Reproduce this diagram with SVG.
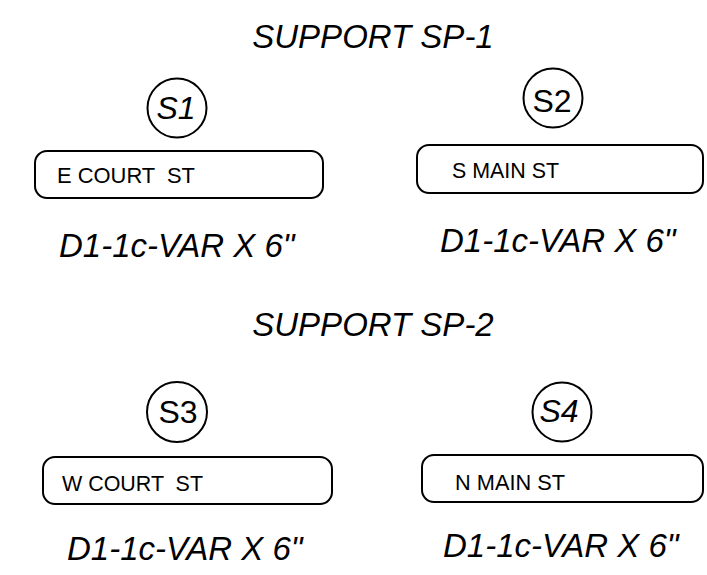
<svg xmlns="http://www.w3.org/2000/svg" width="707" height="575" viewBox="0 0 707 575">
<style>
.t{font-family:"Liberation Sans",Arial,sans-serif;fill:#000}
.big{font-size:33px;font-style:italic}
.sn{font-size:32px}
.it{font-style:italic}
.st{font-size:22.5px;white-space:pre}
.c{fill:#fff;stroke:#000;stroke-width:2}
.b{fill:#fff;stroke:#000;stroke-width:2}
</style>
<rect width="707" height="575" fill="#fff"/>
<text class="t big" x="373" y="48" text-anchor="middle">SUPPORT SP-1</text>
<text class="t big" x="373" y="336" text-anchor="middle">SUPPORT SP-2</text>
<g id="connectors"></g>
<g id="S1">
<circle class="c" cx="177" cy="108" r="29.5"/>
<text class="t sn it" x="176" y="119" text-anchor="middle">S1</text>
</g>
<g id="box1">
<rect class="b" x="35" y="151" width="288" height="47" rx="12"/>
<text class="t st" x="57" y="183" xml:space="preserve" textLength="138" lengthAdjust="spacingAndGlyphs">E COURT  ST</text>
</g>
<g id="label1"><text class="t big" x="59" y="257">D1-1c-VAR X 6"</text></g>
<g id="S2">
<circle class="c" cx="553" cy="98" r="29.5"/>
<text class="t sn" x="552" y="112" text-anchor="middle">S2</text>
</g>
<g id="box2">
<rect class="b" x="417" y="145" width="286" height="48" rx="12"/>
<text class="t st" x="452" y="178" textLength="107" lengthAdjust="spacingAndGlyphs">S MAIN ST</text>
</g>
<g id="label2"><text class="t big" x="440" y="252">D1-1c-VAR X 6"</text></g>
<g id="S3">
<circle class="c" cx="177" cy="412" r="30"/>
<text class="t sn" x="178" y="423" text-anchor="middle">S3</text>
</g>
<g id="box3">
<rect class="b" x="43" y="457" width="289" height="47" rx="12"/>
<text class="t st" x="62" y="491" xml:space="preserve" textLength="141" lengthAdjust="spacingAndGlyphs">W COURT  ST</text>
</g>
<g id="label3"><text class="t big" x="67" y="560">D1-1c-VAR X 6"</text></g>
<g id="S4">
<circle class="c" cx="562" cy="412" r="29.5"/>
<text class="t sn it" x="559" y="422" text-anchor="middle">S4</text>
</g>
<g id="box4">
<rect class="b" x="422" y="455" width="281" height="47" rx="12"/>
<text class="t st" x="455" y="490" textLength="110" lengthAdjust="spacingAndGlyphs">N MAIN ST</text>
</g>
<g id="label4"><text class="t big" x="443" y="557">D1-1c-VAR X 6"</text></g>
</svg>
